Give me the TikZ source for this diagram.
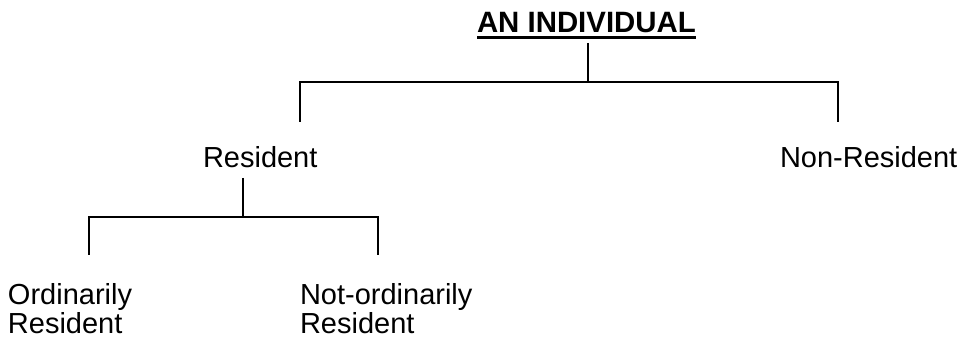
\documentclass[tikz,border=0pt]{standalone}
\usepackage{fontspec}
\setmainfont{Liberation Sans}
\begin{document}
\begin{tikzpicture}[x=1pt,y=-1pt,
  lbl/.style={inner sep=0pt, outer sep=0pt, anchor=base west, font=\fontsize{29}{29.5}\selectfont, align=left},
  ttl/.style={lbl, font=\fontsize{29.4}{31}\selectfont\bfseries},
  conn/.style={line width=1.6pt},
  uline/.style={line width=3pt}]
\path[use as bounding box] (0,0) rectangle (962,339);
% texts
\node[ttl] (title) at (477,33) {AN INDIVIDUAL};
\node[lbl] (res) at (203,168) {Resident};
\node[lbl] (nonres) at (780,168) {Non-Resident};
\node[lbl, text depth=0pt] (ord) at (8,334) {Ordinarily\\Resident};
\node[lbl, text depth=0pt] (notord) at (300,334) {Not-ordinarily\\Resident};
% underline
\draw[uline] ([yshift=-4.6pt]title.base west) -- ([yshift=-4.6pt]title.base east);
% junction coordinates
\coordinate (t0) at (588,43);
\coordinate (j0) at (588,82);
\coordinate (jl) at (300,82);
\coordinate (jr) at (838,82);
\coordinate (el) at (300,122);
\coordinate (er) at (838,122);
\coordinate (r0) at (243,178);
\coordinate (j1) at (243,217);
\coordinate (jl1) at (89,217);
\coordinate (jr1) at (378,217);
\coordinate (el1) at (89,255);
\coordinate (er1) at (378,255);
% connectors
\draw[conn] (t0) -- (j0);
\draw[conn] (el) -- (jl) -- (jr) -- (er);
\draw[conn] (r0) -- (j1);
\draw[conn] (el1) -- (jl1) -- (jr1) -- (er1);
\end{tikzpicture}
\end{document}
